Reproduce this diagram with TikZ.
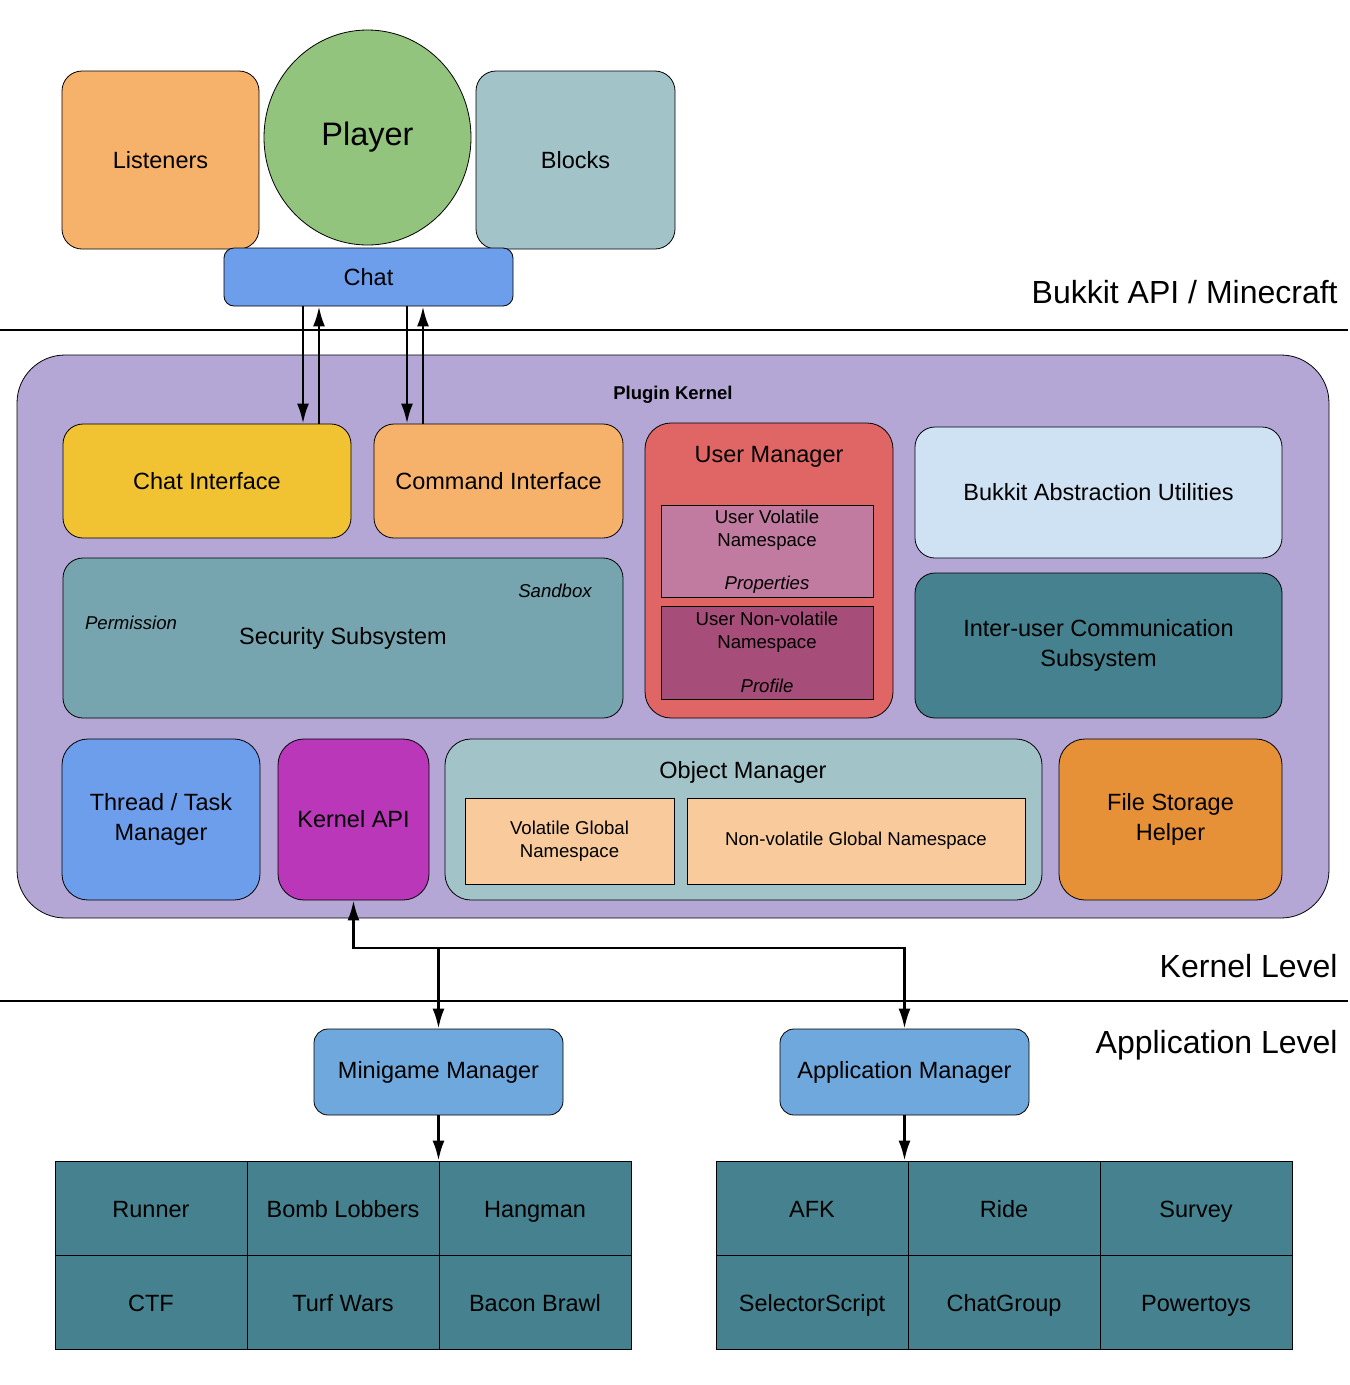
\documentclass[tikz,border=0pt]{standalone}
\usepackage{fontspec}
\setmainfont{Liberation Sans}
\usepackage{tikz}
\usetikzlibrary{shapes,arrows,arrows.meta}
\definecolor{orangebox}{HTML}{F6B26B}
\definecolor{greenbox}{HTML}{93C47D}
\definecolor{greyblue}{HTML}{A2C4C9}
\definecolor{bluebox}{HTML}{6D9EEB}
\definecolor{kernelbg}{HTML}{B4A7D6}
\definecolor{yellowbox}{HTML}{F1C232}
\definecolor{redbox}{HTML}{E06666}
\definecolor{pinkbox}{HTML}{C27BA0}
\definecolor{plumbox}{HTML}{A64D79}
\definecolor{palebox}{HTML}{CFE2F3}
\definecolor{tealbox}{HTML}{45818E}
\definecolor{secbox}{HTML}{76A5AF}
\definecolor{apibox}{HTML}{BA37B9}
\definecolor{peachbox}{HTML}{F9CB9C}
\definecolor{darkorange}{HTML}{E69138}
\definecolor{mgrbox}{HTML}{6FA8DC}
\tikzset{
	block/.style  = {draw, rounded corners = 20pt, inner sep = 0pt, align = center,
		font = \fontsize{23.5}{30}\selectfont},
	wh/.style 2 args = {minimum width = #1pt, minimum height = #2pt},
	ns/.style     = {draw, rectangle, inner sep = 0pt, align = center,
		font = \fontsize{18.6}{22.5}\selectfont},
	cell/.style   = {draw, rectangle, fill = tealbox, inner sep = 0pt, text height = 18pt,
		text depth = 0pt, minimum width = 192pt, minimum height = 94pt,
		font = \fontsize{23.5}{26}\selectfont},
	small/.style  = {align = center, font = \fontsize{18.6}{22.5}\selectfont},
	note/.style   = {font = \fontsize{18.6}{22}\selectfont\itshape},
	level/.style  = {anchor = base east, inner sep = 0pt, font = \fontsize{32}{38}\selectfont},
	rule/.style   = {line width = 1.6pt},
	link/.style   = {line width = 2.6pt}
}

\begin{document}
\begin{tikzpicture}[x = 1pt, y = -1pt, thick, >={Latex[length=20pt,width=12pt]}]
	\useasboundingbox (0,0) rectangle (1350,1385);

	% Bukkit API / Minecraft
	\draw
	node at (160.5,160)[block, fill = orangebox, wh = {197}{178}] (lis) {Listeners}
	node at (575.5,160)[block, fill = greyblue, wh = {199}{178}] (blk) {Blocks}
	node at (367.5,137.5)[draw, ellipse, fill = greenbox, wh = {207}{215},
		font = \fontsize{32.5}{38}\selectfont] (ply) {Player}
	node at (368.5,277)[block, rounded corners = 10pt, fill = bluebox, wh = {289}{58}] (chat) {Chat};
	\node[level] (bukkit) at (1338,303) {Bukkit API / Minecraft};
	\draw[rule] (0,330) -- (1348,330);

	% Plugin Kernel
	\draw
	node at (673,636.5)[block, rounded corners = 48pt, fill = kernelbg, wh = {1312}{563}] (kernel) {}
	node at (673,395)[font = \fontsize{18.5}{22}\selectfont\bfseries] {Plugin Kernel}
	node at (207,481)[block, fill = yellowbox, wh = {288}{114}] (ci) {Chat Interface}
	node at (498.5,481)[block, fill = orangebox, wh = {249}{114}] (cmd) {Command Interface}
	node at (769,570.5)[block, rounded corners = 26pt, fill = redbox, wh = {248}{295}] (um) {}
	node at (769,457)[font = \fontsize{23.5}{26}\selectfont] {User Manager}
	node at (767,551)[ns, fill = pinkbox, wh = {212}{92}] (uv) {}
	node at (767,530)[small] {User Volatile\\Namespace}
	node at (767,585)[note] {Properties}
	node at (767,652.5)[ns, fill = plumbox, wh = {212}{93}] (unv) {}
	node at (767,632)[small] {User Non-volatile\\Namespace}
	node at (767,686)[note] {Profile}
	node at (1098.5,492.5)[block, fill = palebox, wh = {367}{131}] (bau) {Bukkit Abstraction Utilities}
	node at (1098.5,645.5)[block, fill = tealbox, wh = {367}{145}] (icom) {Inter-user Communication\\Subsystem}
	node at (343,638)[block, fill = secbox, wh = {560}{160}] (sec) {Security Subsystem}
	node at (555,591)[note] {Sandbox}
	node at (131,623)[note] {Permission};

	\draw
	node at (161,819.5)[block, rounded corners = 26pt, fill = bluebox, wh = {198}{161}] (thr) {Thread / Task\\Manager}
	node at (353.5,819.5)[block, rounded corners = 26pt, fill = apibox, wh = {151}{161}] (kapi) {Kernel API}
	node at (743.5,819.5)[block, rounded corners = 26pt, fill = greyblue, wh = {597}{161}] (om) {}
	node at (743,772)[font = \fontsize{23.5}{26}\selectfont] {Object Manager}
	node at (569.5,841)[ns, fill = peachbox, wh = {209}{86}] (vgn) {Volatile Global\\Namespace}
	node at (856,841)[ns, fill = peachbox, wh = {338}{86}] (nvgn) {Non-volatile Global Namespace}
	node at (1170.5,819.5)[block, rounded corners = 26pt, fill = darkorange, wh = {223}{161}] (fsh) {File Storage\\Helper};

	\draw[link, ->] (chat.south -| 303,0) -- (ci.north -| 303,0);
	\draw[link, <-] (chat.south -| 319,0) -- (ci.north -| 319,0);
	\draw[link, ->] (chat.south -| 407,0) -- (cmd.north -| 407,0);
	\draw[link, <-] (chat.south -| 423,0) -- (cmd.north -| 423,0);

	\node[level] (klevel) at (1338,977) {Kernel Level};
	\draw[rule] (0,1001) -- (1348,1001);
	\node[level] (alevel) at (1338,1053) {Application Level};

	% Application Level
	\draw
	node at (438.5,1072)[block, rounded corners = 14pt, fill = mgrbox, wh = {249}{86}] (mm) {Minigame Manager}
	node at (904.5,1072)[block, rounded corners = 14pt, fill = mgrbox, wh = {249}{86}] (am) {Application Manager};

	\coordinate (split) at (438.5,948);
	\draw[link, <->] (kapi.south) |- (split) -| (am.north);
	\draw[link, ->] (split) -- (mm.north);

	\draw
	node at (151,1208)[cell] (run) {Runner}
	node at (343,1208)[cell] (bomb) {Bomb Lobbers}
	node at (535,1208)[cell] (hang) {Hangman}
	node at (151,1302)[cell] (ctf) {CTF}
	node at (343,1302)[cell] (turf) {Turf Wars}
	node at (535,1302)[cell] (bacon) {Bacon Brawl}
	node at (812,1208)[cell] (afk) {AFK}
	node at (1004,1208)[cell] (ride) {Ride}
	node at (1196,1208)[cell] (survey) {Survey}
	node at (812,1302)[cell] (sel) {SelectorScript}
	node at (1004,1302)[cell] (cgroup) {ChatGroup}
	node at (1196,1302)[cell] (ptoys) {Powertoys};

	\draw[link, ->] (mm.south) -- (mm.south |- hang.north);
	\draw[link, ->] (am.south) -- (am.south |- afk.north);
\end{tikzpicture}
\end{document}
